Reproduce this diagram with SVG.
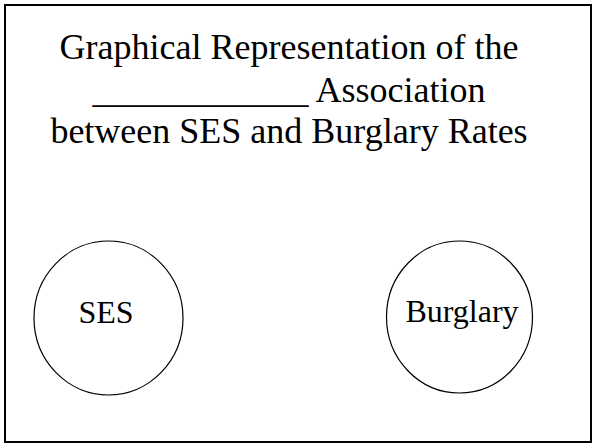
<svg xmlns="http://www.w3.org/2000/svg" width="594" height="445" viewBox="0 0 594 445">
<style>
text{font-family:'Liberation Serif','Times New Roman',Times,'DejaVu Serif',serif;fill:#000;text-anchor:middle}
.title{font-size:36px}
.lbl{font-size:32px}
.node{fill:#fff;stroke:#000;stroke-width:1.2}
</style>
<rect x="5" y="5" width="586" height="437" fill="#fff" stroke="#000" stroke-width="2"/>
<g id="title">
<text class="title" x="289" y="59" font-family="Liberation Serif, Times New Roman, serif">Graphical Representation of the</text>
<text class="title" x="289" y="102" font-family="Liberation Serif, Times New Roman, serif">____________ Association</text>
<text class="title" x="289" y="143" font-family="Liberation Serif, Times New Roman, serif">between SES and Burglary Rates</text>
</g>
<g id="connectors"></g>
<g id="ses">
<ellipse class="node" cx="108.5" cy="318" rx="74.5" ry="77"/>
<text class="lbl" x="106" y="323" font-family="Liberation Serif, Times New Roman, serif">SES</text>
</g>
<g id="burglary">
<ellipse class="node" cx="459.5" cy="317" rx="73" ry="76"/>
<text class="lbl" x="462" y="322" font-family="Liberation Serif, Times New Roman, serif">Burglary</text>
</g>
</svg>
